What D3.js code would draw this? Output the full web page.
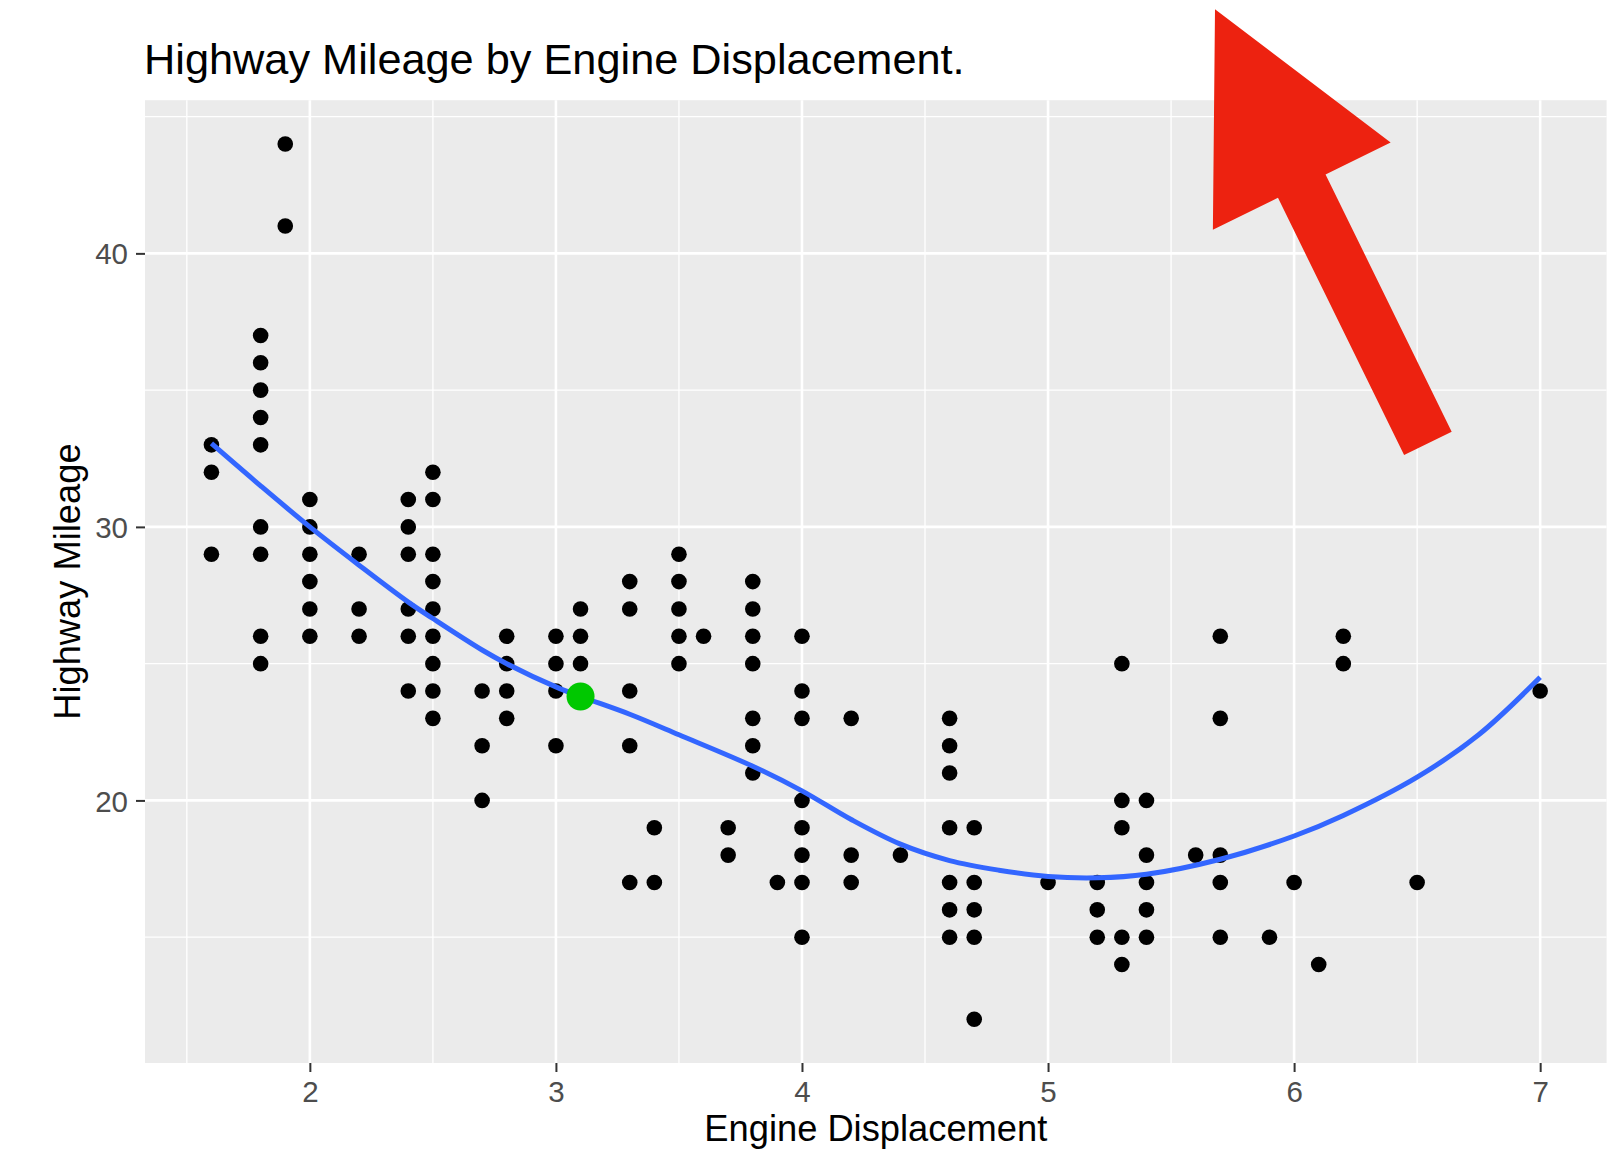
<!DOCTYPE html>
<html>
<head>
<meta charset="utf-8">
<script src="https://cdn.jsdelivr.net/npm/d3@7"></script>
<style>
  html, body { margin: 0; padding: 0; background: #ffffff; }
  svg { display: block; }
  text { font-family: "Liberation Sans", Arial, Helvetica, sans-serif; }
</style>
</head>
<body>
<svg id="chart" width="1609" height="1156"></svg>
<script>
// Engine displacement (litres) and the distinct highway mileages observed at each size
const engineSizes = [1.6, 1.8, 1.9, 2.0, 2.2, 2.4, 2.5, 2.7, 2.8, 3.0, 3.1, 3.3, 3.4, 3.5, 3.6, 3.7, 3.8,
                     3.9, 4.0, 4.2, 4.4, 4.6, 4.7, 5.0, 5.2, 5.3, 5.4, 5.6, 5.7, 5.9, 6.0, 6.1, 6.2, 6.5, 7.0];
const highwayMpg = [
  [33, 32, 29],
  [37, 36, 35, 34, 33, 30, 29, 26, 25],
  [44, 41],
  [31, 30, 29, 28, 27, 26],
  [29, 27, 26],
  [31, 30, 29, 27, 26, 24],
  [32, 31, 29, 28, 27, 26, 25, 24, 23],
  [24, 22, 20],
  [26, 25, 24, 23],
  [26, 25, 24, 22],
  [27, 26, 25],
  [28, 27, 24, 22, 17],
  [19, 17],
  [29, 28, 27, 26, 25],
  [26],
  [19, 18],
  [28, 27, 26, 25, 23, 22, 21],
  [17],
  [26, 24, 23, 20, 19, 18, 17, 15],
  [23, 18, 17],
  [18],
  [23, 22, 21, 19, 17, 16, 15],
  [19, 17, 16, 15, 12],
  [17],
  [17, 16, 15],
  [25, 20, 19, 15, 14],
  [20, 18, 17, 16, 15],
  [18],
  [26, 23, 18, 17, 15],
  [15],
  [17],
  [14],
  [26, 25],
  [17],
  [24]
];

// Smoothed trend of highway mileage against displacement
const smoothDispl = [1.6, 1.8, 2.0, 2.2, 2.4, 2.5, 2.7, 2.8, 3.0, 3.1, 3.3, 3.5, 3.8, 4.0, 4.2, 4.4,
                     4.6, 4.8, 5.0, 5.2, 5.4, 5.7, 6.0, 6.2, 6.5, 6.75, 7.0];
const smoothHwy   = [33.05, 31.5, 30.0, 28.6, 27.25, 26.65, 25.5, 25.0, 24.15, 23.8, 23.15, 22.4, 21.25, 20.35, 19.3, 18.4,
                     17.8, 17.45, 17.22, 17.17, 17.3, 17.85, 18.7, 19.45, 20.85, 22.4, 24.5];

// Highlighted point on the trend
const highlightDispl = [3.1];
const highlightHwy = [23.8];

// Axis breaks
const xMajorTicks = [2, 3, 4, 5, 6, 7];
const xMinorTicks = [1.5, 2.5, 3.5, 4.5, 5.5, 6.5];
const yMajorTicks = [20, 30, 40];
const yMinorTicks = [15, 25, 35, 45];

const titleText = "Highway Mileage by Engine Displacement.";
const xTitleText = "Engine Displacement";
const yTitleText = "Highway Mileage";

// ---- layout ----
const svg = d3.select("#chart");
const panel = { left: 145, right: 1606.6, top: 100.2, bottom: 1063 };

// 5% expansion around the data range on both axes
const allHwy = highwayMpg.flat();
const xExt = d3.extent(engineSizes), yExt = d3.extent(allHwy);
const xPad = (xExt[1] - xExt[0]) * 0.05, yPad = (yExt[1] - yExt[0]) * 0.05;

const x = d3.scaleLinear().domain([xExt[0] - xPad, xExt[1] + xPad]).range([panel.left, panel.right]);
const y = d3.scaleLinear().domain([yExt[0] - yPad, yExt[1] + yPad]).range([panel.bottom, panel.top]);

// panel background
svg.append("rect")
  .attr("x", panel.left).attr("y", panel.top)
  .attr("width", panel.right - panel.left).attr("height", panel.bottom - panel.top)
  .attr("fill", "#EBEBEB");

// grid lines
const grid = svg.append("g");
grid.selectAll(".vminor").data(xMinorTicks).join("line")
  .attr("x1", d => x(d)).attr("x2", d => x(d))
  .attr("y1", panel.top).attr("y2", panel.bottom)
  .attr("stroke", "#ffffff").attr("stroke-width", 1.3);
grid.selectAll(".hminor").data(yMinorTicks).join("line")
  .attr("y1", d => y(d)).attr("y2", d => y(d))
  .attr("x1", panel.left).attr("x2", panel.right)
  .attr("stroke", "#ffffff").attr("stroke-width", 1.3);
grid.selectAll(".vmajor").data(xMajorTicks).join("line")
  .attr("x1", d => x(d)).attr("x2", d => x(d))
  .attr("y1", panel.top).attr("y2", panel.bottom)
  .attr("stroke", "#ffffff").attr("stroke-width", 2.6);
grid.selectAll(".hmajor").data(yMajorTicks).join("line")
  .attr("y1", d => y(d)).attr("y2", d => y(d))
  .attr("x1", panel.left).attr("x2", panel.right)
  .attr("stroke", "#ffffff").attr("stroke-width", 2.6);

// axes
const xAxis = svg.append("g")
  .attr("transform", `translate(0,${panel.bottom})`)
  .call(d3.axisBottom(x).tickValues(xMajorTicks).tickFormat(d3.format("d")).tickSize(9).tickPadding(9));
const yAxis = svg.append("g")
  .attr("transform", `translate(${panel.left},0)`)
  .call(d3.axisLeft(y).tickValues(yMajorTicks).tickFormat(d3.format("d")).tickSize(9).tickPadding(8));
[xAxis, yAxis].forEach(a => {
  a.select(".domain").remove();
  a.selectAll(".tick line").attr("stroke", "#333333").attr("stroke-width", 2);
  a.selectAll(".tick text")
    .attr("fill", "#4D4D4D")
    .style("font-size", "29.5px")
    .style("font-family", '"Liberation Sans", Arial, sans-serif');
});
yAxis.selectAll(".tick text").attr("dy", "0.36em");

// scatter points
const pts = engineSizes.flatMap((e, i) => highwayMpg[i].map(h => ({ displ: e, hwy: h })));
svg.append("g").selectAll("circle").data(pts).join("circle")
  .attr("cx", d => x(d.displ)).attr("cy", d => y(d.hwy))
  .attr("r", 7.8).attr("fill", "#000000");

// smoothed trend line
const trend = smoothDispl.map((d, i) => [d, smoothHwy[i]]);
svg.append("path")
  .datum(trend)
  .attr("d", d3.line().x(d => x(d[0])).y(d => y(d[1])).curve(d3.curveCatmullRom.alpha(0.5)))
  .attr("fill", "none")
  .attr("stroke", "#3366FF")
  .attr("stroke-width", 5);

// highlighted point
svg.append("g").selectAll("circle").data(highlightDispl.map((d, i) => [d, highlightHwy[i]])).join("circle")
  .attr("cx", d => x(d[0])).attr("cy", d => y(d[1]))
  .attr("r", 14).attr("fill", "#00C800");

// title and axis titles
svg.append("text")
  .attr("x", 144).attr("y", 73.5)
  .style("font-size", "43.3px").attr("fill", "#000000")
  .text(titleText);
svg.append("text")
  .attr("x", (panel.left + panel.right) / 2).attr("y", 1141)
  .attr("text-anchor", "middle")
  .style("font-size", "36.3px").attr("fill", "#000000")
  .text(xTitleText);
svg.append("text")
  .attr("transform", `translate(80,${(panel.top + panel.bottom) / 2}) rotate(-90)`)
  .attr("text-anchor", "middle")
  .style("font-size", "36.3px").attr("fill", "#000000")
  .text(yTitleText);

// callout arrow pointing up-left toward the title area
(function drawArrow() {
  const tail = [1427.9, 443.3], tip = [1215, 9.3];
  const shaftW = 53, headW = 198, headL = 197;
  const dx = tip[0] - tail[0], dy = tip[1] - tail[1];
  const len = Math.hypot(dx, dy);
  const ux = dx / len, uy = dy / len;      // along the arrow
  const px = -uy, py = ux;                 // perpendicular
  const base = [tip[0] - ux * headL, tip[1] - uy * headL];
  const side = (o, s) => [o[0] + px * s, o[1] + py * s];
  const poly = [
    side(tail, shaftW / 2),
    side(base, shaftW / 2),
    side(base, headW / 2),
    tip,
    side(base, -headW / 2),
    side(base, -shaftW / 2),
    side(tail, -shaftW / 2)
  ];
  svg.append("polygon")
    .attr("points", poly.map(p => p.join(",")).join(" "))
    .attr("fill", "#ED2210");
})();
</script>
</body>
</html>
